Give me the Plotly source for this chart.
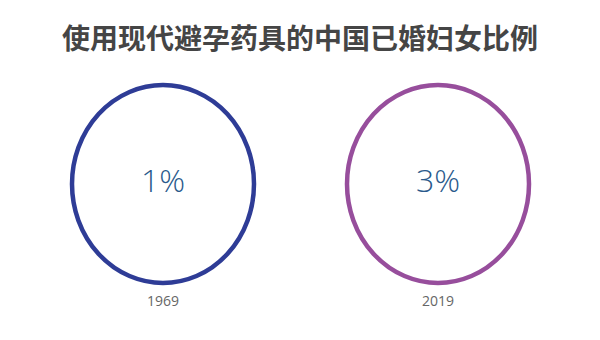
import plotly.graph_objects as go

title = "使用现代避孕药具的中国已婚妇女比例"
years = ["1969", "2019"]
values = [1, 3]
colors = ["#2E3C96", "#974E9C"]

# layout constants (pixel geometry)
W, H = 600, 340
cx_px = [163, 438]
cy_px = 184
rx_px, ry_px = 91, 99
unit_x = cx_px[1] - cx_px[0]
unit_y = ry_px

fig = go.Figure()
shapes = []
for i, (yr, v, c) in enumerate(zip(years, values, colors)):
    hw = rx_px / unit_x
    shapes.append(dict(type="circle", xref="x", yref="y",
                       x0=i - hw, x1=i + hw, y0=-1, y1=1,
                       line=dict(color=c, width=4.5), fillcolor="rgba(0,0,0,0)"))

fig.add_trace(go.Scatter(
    x=list(range(len(values))), y=[0] * len(values), mode="text",
    text=[f"{v}%" for v in values],
    textfont=dict(family="Open Sans", size=32, color="#2A5A8C", weight=300),
    hoverinfo="skip", showlegend=False))
fig.add_trace(go.Scatter(
    x=list(range(len(years))), y=[-(302 - cy_px) / unit_y] * len(years), mode="text",
    text=years,
    textfont=dict(family="Open Sans", size=14, color="#666666"),
    hoverinfo="skip", showlegend=False))

fig.update_layout(
    width=W, height=H,
    margin=dict(l=0, r=0, t=0, b=0),
    paper_bgcolor="white", plot_bgcolor="white",
    shapes=shapes,
    title=dict(text=f"<b>{title}</b>", x=0.5, xanchor="center", y=1 - 39 / H, yanchor="middle",
               font=dict(family="Noto Sans CJK SC", size=28, color="#454545")),
    xaxis=dict(range=[-cx_px[0] / unit_x, (W - cx_px[0]) / unit_x], visible=False, fixedrange=True),
    yaxis=dict(range=[-(H - cy_px) / unit_y, cy_px / unit_y], visible=False, fixedrange=True),
)

fig.write_html("out.html")
